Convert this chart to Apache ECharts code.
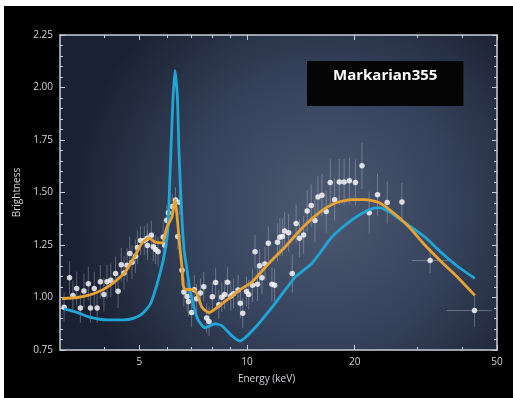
<!DOCTYPE html>
<html>
<head>
<meta charset="utf-8">
<title>Markarian355</title>
<script src="https://cdn.jsdelivr.net/npm/echarts@6.0.0/dist/echarts.min.js"></script>
<style>
  html, body { margin: 0; padding: 0; background: #fff; overflow: hidden; }
  #chart { position: absolute; left: 4px; top: 6px; width: 509px; height: 392px; background: #000; }
</style>
</head>
<body>
<div id="chart"></div>
<script>
// model curve 1 (blue) : [energy keV, brightness]
const blueCurve = [
  [3.08, 0.946], [3.35, 0.929], [3.65, 0.905], [4.06, 0.893], [4.53, 0.893],
  [4.83, 0.902], [5.09, 0.922], [5.37, 0.970], [5.61, 1.066], [5.83, 1.178],
  [5.98, 1.288], [6.03, 1.370], [6.07, 1.514], [6.13, 1.707], [6.21, 1.947],
  [6.29, 2.082], [6.39, 1.947], [6.45, 1.707], [6.52, 1.514], [6.58, 1.370],
  [6.67, 1.226], [6.80, 1.130], [6.93, 1.034], [7.25, 0.904], [7.63, 0.856],
  [8.14, 0.875], [8.52, 0.865], [9.08, 0.817], [9.56, 0.793], [10.53, 0.856],
  [11.97, 0.971], [13.62, 1.096], [15.19, 1.163], [17.28, 1.288], [19.65, 1.370],
  [21.92, 1.418], [23.37, 1.428], [24.93, 1.409], [27.63, 1.356], [31.42, 1.288],
  [35.05, 1.212], [39.10, 1.144], [43.35, 1.091]
];

// model curve 2 (orange)
const orangeCurve = [
  [3.04, 0.995], [3.35, 1.000], [3.74, 1.019], [4.14, 1.058], [4.53, 1.115],
  [4.84, 1.192], [5.09, 1.260], [5.32, 1.284], [5.53, 1.264], [5.79, 1.260],
  [5.98, 1.337], [6.17, 1.385], [6.29, 1.466], [6.37, 1.394], [6.50, 1.226],
  [6.58, 1.144], [6.67, 1.043], [7.16, 1.034], [7.49, 0.952], [7.83, 0.928],
  [8.52, 0.971], [9.68, 1.043], [10.33, 1.074], [11.50, 1.162], [12.79, 1.242],
  [14.24, 1.330], [15.86, 1.402], [17.64, 1.450], [19.65, 1.466], [21.36, 1.466],
  [23.37, 1.452], [25.41, 1.409], [28.35, 1.337], [31.42, 1.250], [35.05, 1.168],
  [39.10, 1.091], [43.35, 1.010]
];

// measured points : [energy keV, brightness, error]
const dataPoints = [
  [3.08, 0.954, 0.07], [3.19, 1.094, 0.08], [3.26, 1.010, 0.07], [3.34, 1.043, 0.08],
  [3.42, 0.950, 0.07], [3.50, 1.031, 0.08], [3.60, 1.066, 0.08], [3.65, 0.950, 0.07],
  [3.74, 1.043, 0.08], [3.81, 0.950, 0.07], [3.89, 1.075, 0.08], [3.98, 1.014, 0.08],
  [4.06, 1.075, 0.08], [4.16, 1.082, 0.08], [4.29, 1.114, 0.08], [4.36, 1.030, 0.08],
  [4.45, 1.156, 0.08], [4.53, 1.117, 0.08], [4.62, 1.154, 0.08], [4.70, 1.210, 0.08],
  [4.77, 1.168, 0.08], [4.88, 1.197, 0.08], [4.94, 1.238, 0.08], [5.04, 1.271, 0.07],
  [5.16, 1.271, 0.07], [5.26, 1.282, 0.07], [5.27, 1.248, 0.07], [5.40, 1.296, 0.07],
  [5.47, 1.242, 0.07], [5.55, 1.229, 0.07], [5.64, 1.218, 0.07], [5.83, 1.288, 0.07],
  [5.88, 1.250, 0.07], [5.96, 1.368, 0.07], [6.03, 1.404, 0.07], [6.18, 1.433, 0.06],
  [6.31, 1.464, 0.06], [6.47, 1.453, 0.06], [6.40, 1.290, 0.06], [6.58, 1.130, 0.07],
  [6.66, 1.026, 0.07], [6.80, 1.005, 0.07], [6.86, 0.981, 0.07], [7.00, 0.929, 0.07],
  [7.12, 1.037, 0.07], [7.23, 0.994, 0.07], [7.41, 1.021, 0.07], [7.57, 1.051, 0.07],
  [7.71, 0.902, 0.07], [7.83, 0.886, 0.07], [8.00, 1.003, 0.07], [8.17, 1.072, 0.07],
  [8.34, 0.966, 0.07], [8.50, 1.001, 0.07], [8.66, 1.014, 0.07], [8.82, 1.073, 0.07],
  [9.01, 1.007, 0.07], [9.17, 1.018, 0.07], [9.44, 1.036, 0.07], [9.58, 0.973, 0.07],
  [9.73, 0.925, 0.07], [9.97, 1.028, 0.07], [10.11, 1.014, 0.07], [10.36, 1.058, 0.08],
  [10.53, 1.218, 0.08], [10.70, 1.063, 0.08], [10.84, 1.151, 0.08], [11.01, 1.094, 0.08],
  [11.23, 1.160, 0.08], [11.47, 1.258, 0.08], [11.74, 1.063, 0.08], [11.95, 1.058, 0.08],
  [12.17, 1.263, 0.09], [12.36, 1.287, 0.09], [12.56, 1.290, 0.09], [12.74, 1.317, 0.09],
  [13.07, 1.308, 0.09], [13.38, 1.114, 0.09], [13.72, 1.352, 0.09], [14.02, 1.282, 0.09],
  [14.40, 1.298, 0.09], [14.73, 1.412, 0.10], [15.12, 1.438, 0.10], [15.49, 1.367, 0.10],
  [15.79, 1.479, 0.10], [16.20, 1.487, 0.10], [16.65, 1.409, 0.10], [17.09, 1.548, 0.11],
  [17.58, 1.466, 0.10], [18.11, 1.550, 0.11], [18.69, 1.550, 0.11], [19.33, 1.556, 0.11],
  [20.10, 1.548, 0.11], [20.96, 1.627, 0.11], [21.96, 1.404, 0.10], [23.17, 1.489, 0.10],
  [24.66, 1.452, 0.10], [27.11, 1.455, 0.09], [32.51, 1.176, 0.06], [43.25, 0.938, 0.08]
];

// horizontal error bars : [energy low, energy high, brightness]
const xErrBars = [
  [28.9, 36.6, 1.176],
  [36.2, 48.3, 0.938]
];

const xMajorTicks = [5, 10, 20, 50];
const xMinorTicks = [4, 6, 7, 8, 9, 30, 40];

const axisColor = '#c9ced8';
const labelColor = '#d2d4d8';
const fontFamily = '"Open Sans", "Noto Sans", sans-serif';

const chart = echarts.init(document.getElementById('chart'));

// 对数横轴 (主刻度带标签 / 次刻度只画短线)
function makeXAxis(pos, ticks, len, withLabel) {
  return {
    type: 'log',
    logBase: 10,
    min: 3,
    max: 50,
    position: pos,
    axisLine: { show: len > 4, onZero: false, lineStyle: { color: axisColor, width: 1.5 } },
    axisTick: { show: true, inside: true, length: len, customValues: ticks, lineStyle: { color: axisColor, width: 1 } },
    axisLabel: { show: withLabel, customValues: xMajorTicks, color: labelColor, fontSize: 10, fontFamily: fontFamily, margin: 7 },
    splitLine: { show: false }
  };
}

function makeYAxis(pos, withLabel) {
  return {
    type: 'value',
    min: 0.75,
    max: 2.25,
    interval: 0.25,
    position: pos,
    axisLine: { show: true, onZero: false, lineStyle: { color: axisColor, width: 1.5 } },
    axisTick: { show: true, inside: true, length: 5, lineStyle: { color: axisColor } },
    minorTick: { show: true, splitNumber: 5, length: 3, lineStyle: { color: axisColor } },
    axisLabel: {
      show: withLabel,
      color: labelColor,
      fontSize: 10,
      fontFamily: fontFamily,
      margin: 7,
      formatter: v => v.toFixed(2)
    },
    splitLine: { show: false }
  };
}

const bottomAxis = makeXAxis('bottom', xMajorTicks, 5, true);
bottomAxis.name = 'Energy (keV)';
bottomAxis.nameLocation = 'middle';
bottomAxis.nameGap = 24;
bottomAxis.nameTextStyle = { color: labelColor, fontSize: 10, fontFamily: fontFamily, padding: [0, 24, 0, 0] };

const leftAxis = makeYAxis('left', true);
leftAxis.name = 'Brightness';
leftAxis.nameLocation = 'middle';
leftAxis.nameGap = 34;
leftAxis.nameTextStyle = { color: labelColor, fontSize: 10, fontFamily: fontFamily };

const option = {
  backgroundColor: '#000',
  animation: false,
  title: {
    text: 'Markarian355',
    left: 303,
    top: 55,
    backgroundColor: '#050505',
    padding: [7, 26, 23, 26],
    textStyle: { color: '#fff', fontSize: 15, fontWeight: 'bold', fontFamily: fontFamily }
  },
  grid: {
    left: 56,
    right: 16,
    top: 29,
    bottom: 48,
    show: true,
    borderWidth: 0,
    backgroundColor: {
      type: 'radial',
      x: 0.6,
      y: 0.55,
      r: 0.8,
      colorStops: [
        { offset: 0, color: '#4d5a72' },
        { offset: 0.55, color: '#35415a' },
        { offset: 1, color: '#1a2132' }
      ]
    }
  },
  xAxis: [
    bottomAxis,
    makeXAxis('bottom', xMinorTicks, 3, false),
    makeXAxis('top', xMajorTicks, 5, false),
    makeXAxis('top', xMinorTicks, 3, false)
  ],
  yAxis: [
    leftAxis,
    makeYAxis('right', false)
  ],
  series: [
    {
      // 误差棒
      type: 'custom',
      name: 'errors',
      xAxisIndex: 0,
      yAxisIndex: 0,
      silent: true,
      data: dataPoints,
      renderItem: (params, api) => {
        const x = api.value(0);
        const y = api.value(1);
        const e = api.value(2);
        const lo = api.coord([x, y - e]);
        const hi = api.coord([x, y + e]);
        return {
          type: 'line',
          shape: { x1: lo[0], y1: lo[1], x2: hi[0], y2: hi[1] },
          style: { stroke: 'rgba(190, 198, 212, 0.38)', lineWidth: 1 }
        };
      }
    },
    {
      type: 'custom',
      name: 'xErrors',
      xAxisIndex: 0,
      yAxisIndex: 0,
      silent: true,
      data: xErrBars,
      renderItem: (params, api) => {
        const a = api.coord([api.value(0), api.value(2)]);
        const b = api.coord([api.value(1), api.value(2)]);
        return {
          type: 'line',
          shape: { x1: a[0], y1: a[1], x2: b[0], y2: b[1] },
          style: { stroke: 'rgba(190, 198, 212, 0.4)', lineWidth: 1 }
        };
      }
    },
    {
      type: 'line',
      name: 'model A',
      data: blueCurve,
      smooth: 0.2,
      symbol: 'none',
      lineStyle: { color: '#1fa6d6', width: 2.8 }
    },
    {
      type: 'line',
      name: 'model B',
      data: orangeCurve,
      smooth: 0.2,
      symbol: 'none',
      lineStyle: { color: '#e7a233', width: 2.8 }
    },
    {
      type: 'scatter',
      name: 'data',
      data: dataPoints.map(p => [p[0], p[1]]),
      symbol: 'circle',
      symbolSize: 5.5,
      itemStyle: { color: '#ffffff' }
    }
  ]
};

chart.setOption(option);
</script>
</body>
</html>
